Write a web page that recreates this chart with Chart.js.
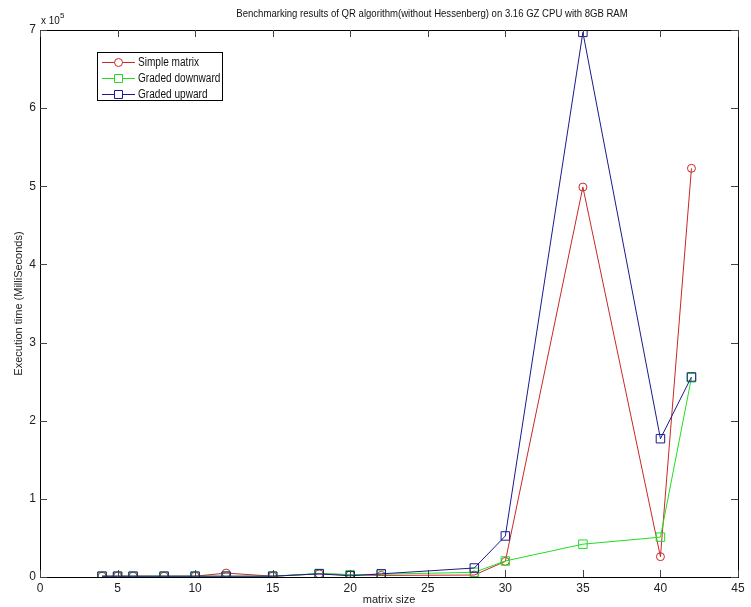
<!DOCTYPE html>
<html>
<head>
<meta charset="utf-8">
<script src="https://cdn.jsdelivr.net/npm/chart.js@4/dist/chart.umd.min.js"></script>
<style>
  html, body { margin: 0; padding: 0; background: #fff; }
  #wrap { width: 751px; height: 607px; position: relative; }
</style>
</head>
<body>
<div id="wrap"><canvas id="c"></canvas></div>
<script>
// data
const sizes = [4, 5, 6, 8, 10, 12, 15, 18, 20, 22, 28, 30, 35, 40, 42];
const simpleMatrix = [1000, 1000, 1000, 1000, 1000, 5000, 1000, 4000, 3000, 2000, 2500, 20000, 499000, 26000, 523000];
const gradedDownward = [1000, 1000, 1000, 1000, 1000, 1000, 1000, 4500, 3000, 3500, 6000, 20500, 42000, 51000, 255000];
const gradedUpward = [1000, 1000, 1000, 1000, 1000, 1000, 1000, 4000, 1500, 4000, 11500, 52500, 697000, 177000, 256000];
const xTicks = [0, 5, 10, 15, 20, 25, 30, 35, 40, 45];
const yTicks = [0, 1, 2, 3, 4, 5, 6, 7];

const FONT = "'Liberation Sans', Arial, sans-serif";
const RED = '#c82828', GREEN = '#22dd22', BLUE = '#1a1a8c';

const pts = vals => sizes.map((s, i) => ({ x: s, y: vals[i] }));

const series = [
  { label: 'Simple matrix', data: simpleMatrix, color: RED, style: 'circle' },
  { label: 'Graded downward', data: gradedDownward, color: GREEN, style: 'rect' },
  { label: 'Graded upward', data: gradedUpward, color: BLUE, style: 'rect' }
];

// narrow text by squeezing horizontally
function narrowText(ctx, text, x, y, sx) {
  ctx.save();
  ctx.translate(x, y);
  ctx.scale(sx, 1);
  ctx.fillText(text, 0, 0);
  ctx.restore();
}

// matlab style: box, inward ticks on all sides, title, legend, x10^5
const matlabFrame = {
  id: 'matlabFrame',
  afterDraw(chart) {
    const { ctx, chartArea: a, scales: { x, y } } = chart;
    ctx.save();
    ctx.strokeStyle = '#000';
    ctx.lineWidth = 1;
    ctx.strokeRect(Math.round(a.left) + 0.5, Math.round(a.top) + 0.5,
      Math.round(a.right - a.left), Math.round(a.bottom - a.top));
    ctx.strokeStyle = '#444';
    ctx.beginPath();
    xTicks.forEach(v => {
      const px = Math.round(x.getPixelForValue(v)) + 0.5;
      ctx.moveTo(px, a.bottom); ctx.lineTo(px, a.bottom - 7);
      ctx.moveTo(px, a.top); ctx.lineTo(px, a.top + 7);
    });
    yTicks.forEach(v => {
      const py = Math.round(y.getPixelForValue(v * 1e5)) + 0.5;
      ctx.moveTo(a.left, py); ctx.lineTo(a.left + 7, py);
      ctx.moveTo(a.right, py); ctx.lineTo(a.right - 7, py);
    });
    ctx.stroke();

    // title
    ctx.fillStyle = '#111';
    ctx.font = '11px ' + FONT;
    ctx.textAlign = 'center';
    ctx.textBaseline = 'middle';
    narrowText(ctx, 'Benchmarking results of QR algorithm(without Hessenberg) on 3.16 GZ CPU with 8GB RAM', 432, 14, 0.87);

    // exponent
    ctx.textAlign = 'left';
    ctx.font = '11px ' + FONT;
    narrowText(ctx, 'x 10', 41, 21, 0.9);
    ctx.font = '8px ' + FONT;
    ctx.fillText('5', 60, 16);

    // legend
    const lx = 97, ly = 52, lw = 125, lh = 48;
    ctx.fillStyle = '#fff';
    ctx.fillRect(lx, ly, lw, lh);
    ctx.strokeStyle = '#000';
    ctx.strokeRect(lx + 0.5, ly + 0.5, lw, lh);
    series.forEach((s, i) => {
      const ry = ly + 10 + i * 16 + 0.5;
      ctx.strokeStyle = s.color;
      ctx.beginPath();
      ctx.moveTo(102, ry); ctx.lineTo(135, ry);
      ctx.stroke();
      ctx.beginPath();
      if (s.style === 'circle') ctx.arc(118.5, ry, 4, 0, Math.PI * 2);
      else ctx.rect(114.5, ry - 4, 8, 8);
      ctx.fillStyle = '#fff';
      ctx.fill();
      ctx.stroke();
      ctx.fillStyle = '#111';
      ctx.font = '12px ' + FONT;
      ctx.textBaseline = 'middle';
      narrowText(ctx, s.label, 138, ry, 0.84);
    });
    ctx.restore();
  }
};

new Chart(document.getElementById('c'), {
  type: 'line',
  data: {
    datasets: series.map((s, i) => ({
      label: s.label,
      data: pts(s.data),
      borderColor: s.color,
      backgroundColor: 'transparent',
      borderWidth: 1,
      pointStyle: s.style,
      pointRadius: s.style === 'rect' ? 6 : 4,
      pointBorderWidth: 1,
      pointBorderColor: s.color,
      pointBackgroundColor: 'transparent',
      tension: 0,
      order: 3 - i
    }))
  },
  options: {
    responsive: true,
    maintainAspectRatio: false,
    animation: false,
    layout: { padding: { top: 30, right: 13, left: 0, bottom: 0 } },
    plugins: { legend: { display: false }, tooltip: { enabled: false } },
    scales: {
      x: {
        type: 'linear', min: 0, max: 45,
        afterFit: s => { s.height = 30; },
        afterBuildTicks: s => { s.ticks = xTicks.map(v => ({ value: v })); },
        grid: { display: false, drawTicks: false },
        border: { display: false },
        ticks: { color: '#222', font: { family: FONT, size: 12 }, padding: 4, maxRotation: 0 },
        title: { display: true, text: 'matrix size', color: '#222', font: { family: FONT, size: 11 }, padding: { top: -2, bottom: 0 } }
      },
      y: {
        type: 'linear', min: 0, max: 700000,
        afterFit: s => { s.width = 40; },
        afterBuildTicks: s => { s.ticks = yTicks.map(v => ({ value: v * 1e5 })); },
        grid: { display: false, drawTicks: false },
        border: { display: false },
        ticks: { color: '#222', font: { family: FONT, size: 12 }, padding: 4, callback: v => v / 1e5 },
        title: { display: true, text: 'Execution time (MilliSeconds)', color: '#222', font: { family: FONT, size: 11 }, padding: { top: 12, bottom: 4 } }
      }
    }
  },
  plugins: [matlabFrame]
});
</script>
</body>
</html>
